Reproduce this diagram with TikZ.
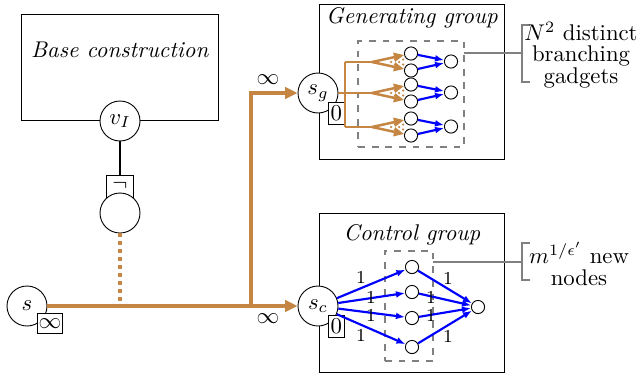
\documentclass[tikz,border=0pt]{standalone}
\usetikzlibrary{arrows.meta}
\definecolor{ochre}{RGB}{196,134,66}
\definecolor{midgray}{RGB}{128,128,128}
\tikzset{
  bignode/.style={draw,circle,minimum size=17.6pt,inner sep=0pt,fill=white},
  smallnode/.style={draw,circle,minimum size=5.8pt,inner sep=0pt,fill=white},
  tagbox/.style={draw,rectangle,inner sep=0.5pt,fill=white},
  groupbox/.style={draw,rectangle},
  flow/.style={draw=ochre,line width=1.5pt,-{Triangle[length=5.5pt,width=5pt]}},
  flowline/.style={draw=ochre,line width=1.5pt},
  thinflow/.style={draw=ochre,line width=1.1pt,-{Triangle[length=4.5pt,width=3.8pt]}},
  thinflowline/.style={draw=ochre,line width=1.1pt},
  bluearrow/.style={draw=blue,line width=0.95pt,-{Latex[length=4pt,width=3pt]}},
  dashbox/.style={draw=midgray,dashed,line width=0.9pt},
  grayline/.style={draw=midgray,line width=1pt},
  lbl/.style={font=\footnotesize,inner sep=0pt}
}
\begin{document}
\begin{tikzpicture}[x=0.44pt,y=-0.44pt]
\useasboundingbox (0,0) rectangle (644,379);
% Base construction
\node[groupbox,minimum width=86.7pt,minimum height=46.6pt] (base) at (119.5,67) {};
\node (basetxt) at (120,50) {\textit{Base construction}};
\node[bignode] (vI) at (120,121) {$v_I$};
\node[tagbox,minimum width=11.9pt,minimum height=11pt,anchor=north] (neg) at (120,175) {};
\node[inner sep=0pt] (negs) at (120,186) {$\neg$};
\node[bignode] (c) at (120,213) {};
\draw[line width=0.8pt] (vI) -- (neg);
\coordinate (dj) at (120,304);
\draw[ochre,line width=1.5pt,dotted] (c) -- (dj);
% source
\node[bignode] (s) at (27,306) {$s$};
\node[tagbox,minimum width=10.6pt,minimum height=8.8pt,anchor=north west] (sinf) at (37,313) {$\infty$};
% groups
\node[groupbox,minimum width=81.4pt,minimum height=68.2pt] (gen) at (411.5,81.5) {};
\node (gentxt) at (412,18) {\textit{Generating group}};
\node[groupbox,minimum width=81.4pt,minimum height=70pt] (ctl) at (411.5,292.5) {};
\node (ctltxt) at (412,235) {\textit{Control group}};
\node[dashbox,minimum width=46.6pt,minimum height=46.6pt] (gdash) at (411,94) {};
\node[dashbox,minimum width=21.1pt,minimum height=48.8pt] (cdash) at (409,306) {};
% s_g, s_c
\node[bignode] (sg) at (318,93) {$s_g$};
\node[tagbox,minimum width=7pt,minimum height=9.7pt,anchor=north west] (sg0) at (328,102) {$0$};
\node[bignode] (sc) at (318,306) {$s_c$};
\node[tagbox,minimum width=7pt,minimum height=9.7pt,anchor=north west] (sc0) at (328,315) {$0$};
% main flows
\coordinate (j) at (251,306);
\draw[flowline] (s) -- (j);
\draw[flow] (j) -- (sc);
\draw[flow] (j) |- (sg);
\node (inftop) at (268,80) {$\infty$};
\node (infbot) at (268,319) {$\infty$};
% generating gadgets
\foreach \i/\y in {1/62,2/93,3/127}{
  \coordinate (sp\i) at (372,\y);
  \node[smallnode] (a\i) at (411,\y-8.5) {};
  \node[smallnode] (b\i) at (411,\y+8.5) {};
  \node[smallnode] (r\i) at (451,\y-0.5) {};
  \foreach \dx/\dy in {391/0,395/-2.5,395/2.5,399/-5,399/0,399/5,403/-2.5,403/2.5}{
    \fill[ochre] (\dx,\y+\dy) circle (0.55pt);
  }
  \draw[thinflow] (sp\i) -- (a\i);
  \draw[thinflow] (sp\i) -- (b\i);
  \draw[bluearrow] (a\i) -- (r\i);
  \draw[bluearrow] (b\i) -- (r\i);
}
\coordinate (v1) at (345,62);
\coordinate (v3) at (345,127);
\draw[thinflowline] (sg) -- (sp2);
\draw[thinflowline] (v1) -- (v3);
\draw[thinflowline] (v1) -- (sp1);
\draw[thinflowline] (v3) -- (sp3);
% control gadget
\node[smallnode] (m1) at (412,267) {};
\node[smallnode] (m2) at (412,292) {};
\node[smallnode] (m3) at (412,318) {};
\node[smallnode] (m4) at (412,347) {};
\node[smallnode] (t) at (478,307) {};
\foreach \k in {1,2,3,4}{
  \draw[bluearrow] (sc) -- (m\k);
  \draw[bluearrow] (m\k) -- (t);
}
\node[lbl] (l1) at (361,277) {1};
\node[lbl] (l2) at (371,297) {1};
\node[lbl] (l3) at (371,315) {1};
\node[lbl] (l4) at (361,335) {1};
\node[lbl] (q1) at (448,278) {1};
\node[lbl] (q2) at (431,297) {1};
\node[lbl] (q3) at (431,315) {1};
\node[lbl] (q4) at (448,336) {1};
% annotations
\coordinate (ga) at (464,53);
\coordinate (gb) at (522,53);
\draw[grayline] (ga) -- (gb);
\draw[grayline] (530,25) -- (522,25) -- (522,82) -- (530,82);
\node[align=center,inner sep=0pt] (gnote) at (581,55) {$N^2$ distinct\\[-2.5pt]branching\\[-2.5pt]gadgets};
\coordinate (ca) at (433,262);
\coordinate (cb) at (522,262);
\draw[grayline] (ca) -- (cb);
\draw[grayline] (530,243) -- (522,243) -- (522,280) -- (530,280);
\node[align=center,inner sep=0pt] (cnote) at (579,264) {$m^{1/\epsilon'}$ new\\[-2.5pt]nodes};
\end{tikzpicture}
\end{document}
